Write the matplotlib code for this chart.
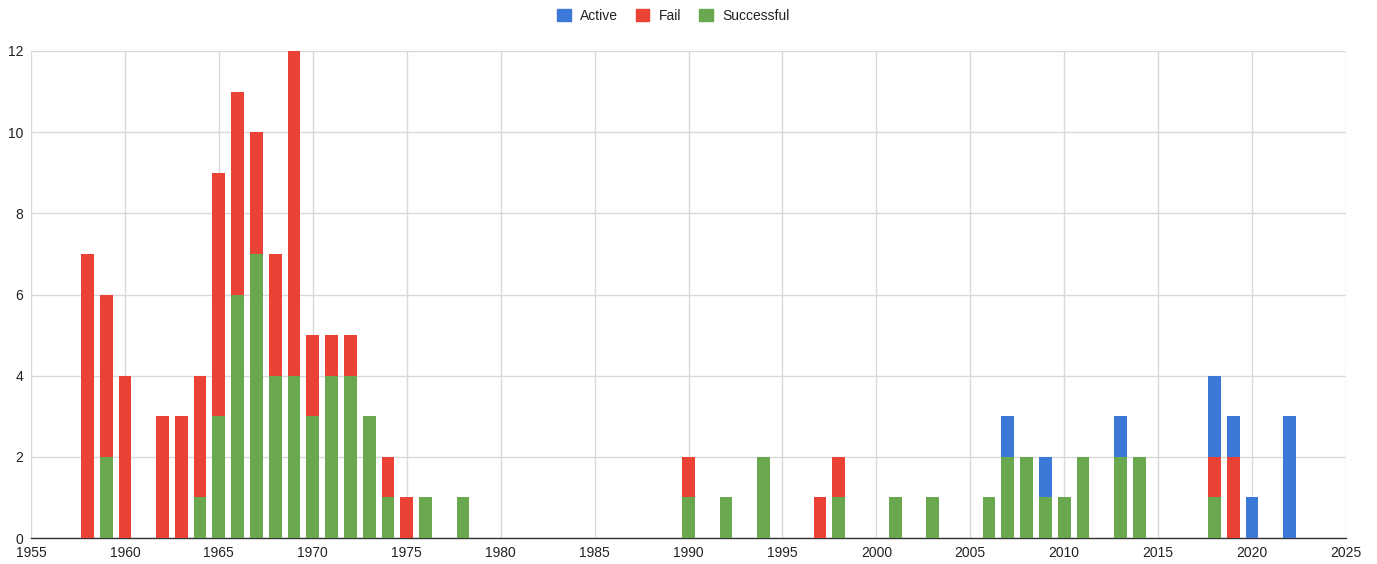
import matplotlib
matplotlib.use("Agg")
import matplotlib.pyplot as plt
from matplotlib.patches import Patch
import numpy as np

plt.rcParams['font.family'] = ['Liberation Sans', 'DejaVu Sans']

years = [1958, 1959, 1960, 1962, 1963, 1964, 1965, 1966, 1967, 1968, 1969,
         1970, 1971, 1972, 1973, 1974, 1975, 1976, 1978, 1990, 1992, 1994,
         1997, 1998, 2001, 2003, 2006, 2007, 2008, 2009, 2010, 2011, 2013,
         2014, 2018, 2019, 2020, 2022]
successful = [0, 2, 0, 0, 0, 1, 3, 6, 7, 4, 4,
              3, 4, 4, 3, 1, 0, 1, 1, 1, 1, 2,
              0, 1, 1, 1, 1, 2, 2, 1, 1, 2, 2,
              2, 1, 0, 0, 0]
fail = [7, 4, 4, 3, 3, 3, 6, 5, 3, 3, 8,
        2, 1, 1, 0, 1, 1, 0, 0, 1, 0, 0,
        1, 1, 0, 0, 0, 0, 0, 0, 0, 0, 0,
        0, 1, 2, 0, 0]
active = [0, 0, 0, 0, 0, 0, 0, 0, 0, 0, 0,
          0, 0, 0, 0, 0, 0, 0, 0, 0, 0, 0,
          0, 0, 0, 0, 0, 1, 0, 1, 0, 0, 1,
          0, 2, 1, 1, 3]

C_ACTIVE = "#3c78d8"
C_FAIL = "#ea4335"
C_SUCCESS = "#6aa84f"

fig = plt.figure(figsize=(13.77, 5.64), dpi=100)
ax = fig.add_axes([31 / 1377, 26 / 564, (1346 - 31) / 1377, (538 - 51) / 564])

x = np.array(years, dtype=float)
s = np.array(successful)
f = np.array(fail)
a = np.array(active)
w = 0.68
ax.bar(x, s, width=w, color=C_SUCCESS, zorder=3)
ax.bar(x, f, width=w, bottom=s, color=C_FAIL, zorder=3)
ax.bar(x, a, width=w, bottom=s + f, color=C_ACTIVE, zorder=3)

ax.set_xlim(1955, 2025)
ax.set_ylim(0, 12)
ax.set_xticks(range(1955, 2026, 5))
ax.set_yticks(range(0, 13, 2))
ax.grid(True, color="#d9d9d9", linewidth=1, zorder=0)
for side in ("top", "right", "left"):
    ax.spines[side].set_visible(False)
ax.spines["bottom"].set_color("#333333")
ax.spines["bottom"].set_linewidth(1)
ax.tick_params(length=0, labelsize=10, colors="#222222")
ax.tick_params(axis="x", pad=6)
ax.tick_params(axis="y", pad=5.5)

handles = [Patch(color=C_ACTIVE, label="Active"),
           Patch(color=C_FAIL, label="Fail"),
           Patch(color=C_SUCCESS, label="Successful")]
fig.legend(handles=handles, loc="center", bbox_to_anchor=(673 / 1377, 1 - 16 / 564),
           ncol=3, frameon=False, fontsize=10, handlelength=1.0,
           handleheight=1.0, handletextpad=0.65, columnspacing=1.3,
           labelcolor="#222222")

fig.savefig("out.png", dpi=100, facecolor="white")
